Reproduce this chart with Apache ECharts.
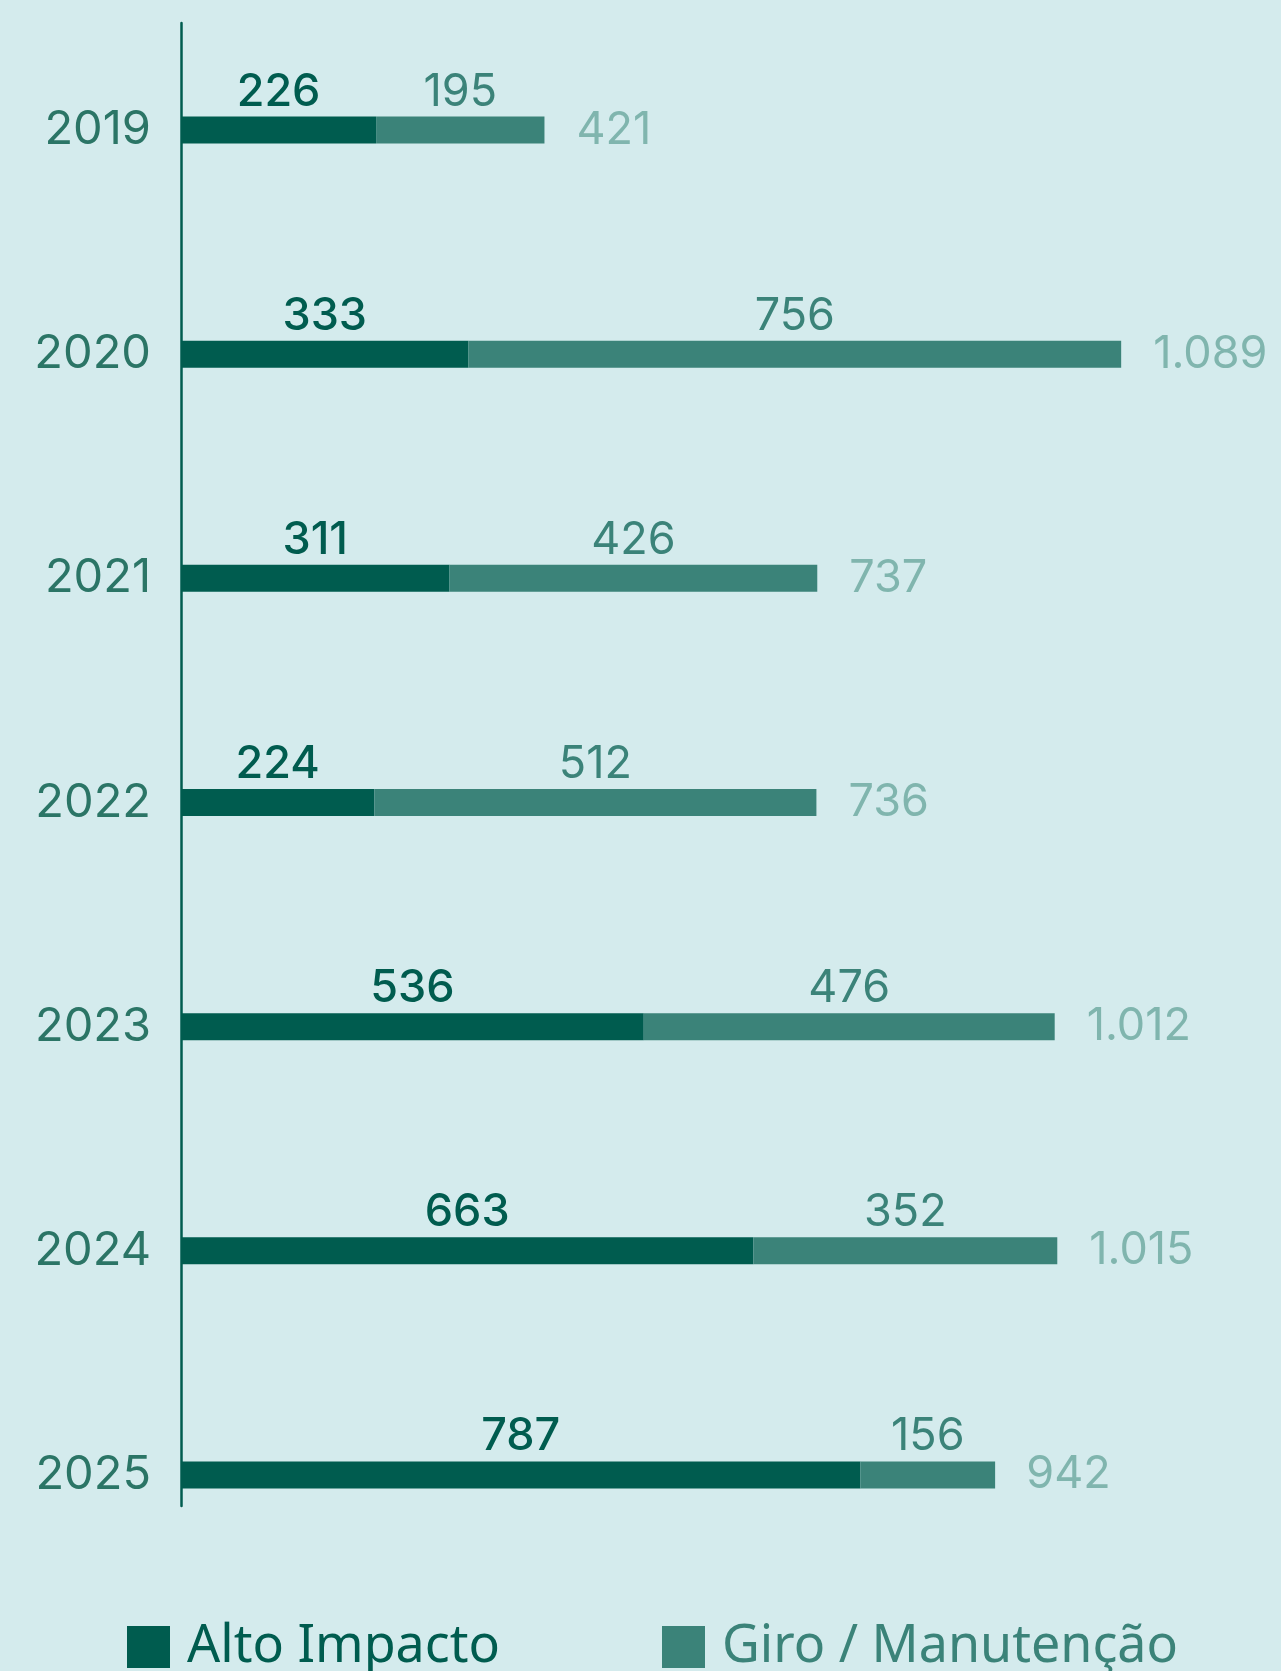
<!DOCTYPE html>
<html>
<head>
<meta charset="utf-8">
<script src="https://cdn.jsdelivr.net/npm/echarts@6/dist/echarts.min.js"></script>
<style>
html,body{margin:0;padding:0;background:#d4ebed;}
#c{width:1281px;height:1671px;}
</style>
</head>
<body>
<div id="c"></div>
<script>
const years = ['2019', '2020', '2021', '2022', '2023', '2024', '2025'];
const altoImpacto = [226, 333, 311, 224, 536, 663, 787];
const giroManutencao = [195, 756, 426, 512, 476, 352, 156];
const totals = [421, 1089, 737, 736, 1012, 1015, 942];

const DARK = '#005c4f';
const MID = '#3b8379';
const LIGHT = '#6aa89e';
const YEAR = '#2b7566';
const NUMFONT = 'Inter';

const chart = echarts.init(document.getElementById('c'), null, {renderer: 'canvas'});
chart.setOption({
  backgroundColor: '#d4ebed',
  animation: false,
  grid: [
    {left: 181, top: 18, height: 1569, width: 1036},
    {left: 181, top: 23, height: 1483, width: 100}
  ],
  xAxis: [
    {type: 'value', gridIndex: 0, min: 0, max: 1200, show: false},
    {type: 'value', gridIndex: 1, min: 0, max: 1, show: false}
  ],
  yAxis: [
    {
      type: 'category', gridIndex: 0, data: years, inverse: true,
      axisLine: {show: false}, axisTick: {show: false}, splitLine: {show: false},
      axisLabel: {fontFamily: NUMFONT, fontSize: 47, fontWeight: 400, color: YEAR, margin: 30,
        padding: [4, 0, 0, 0]}
    },
    {
      type: 'value', gridIndex: 1, min: 0, max: 1,
      axisLine: {show: true, onZero: false, lineStyle: {color: DARK, width: 2.5}},
      axisTick: {show: false}, axisLabel: {show: false}, splitLine: {show: false}
    }
  ],
  legend: [
    {
      data: [{name: 'Alto Impacto', textStyle: {color: DARK}}],
      left: 127, top: 1621, padding: 0, itemWidth: 43, itemHeight: 42, icon: 'rect',
      textStyle: {fontFamily: 'Noto Sans', fontSize: 52, padding: [0, 0, 0, 12]}
    },
    {
      data: [{name: 'Giro / Manutenção', textStyle: {color: MID}}],
      left: 662, top: 1621, padding: 0, itemWidth: 43, itemHeight: 42, icon: 'rect',
      textStyle: {fontFamily: 'Noto Sans', fontSize: 52, padding: [0, 0, 0, 12]}
    }
  ],
  series: [
    {
      name: 'Alto Impacto', type: 'bar', stack: 'total', barWidth: 27,
      xAxisIndex: 0, yAxisIndex: 0,
      itemStyle: {color: DARK},
      label: {show: true, position: 'top', distance: 2, color: DARK,
        fontFamily: NUMFONT, fontSize: 45, fontWeight: 500},
      data: altoImpacto
    },
    {
      name: 'Giro / Manutenção', type: 'bar', stack: 'total', barWidth: 27,
      xAxisIndex: 0, yAxisIndex: 0,
      itemStyle: {color: MID},
      label: {show: true, position: 'top', distance: 2, color: MID,
        fontFamily: NUMFONT, fontSize: 45, fontWeight: 400},
      data: giroManutencao
    },
    {
      name: 'Total', type: 'scatter', symbolSize: 0,
      xAxisIndex: 0, yAxisIndex: 0,
      label: {show: true, position: 'right', distance: 32, color: LIGHT,
        fontFamily: NUMFONT, fontSize: 45, fontWeight: 400,
        formatter: p => p.value[0].toLocaleString('pt-BR')},
      data: totals.map((t, i) => [t, years[i]])
    }
  ]
});
</script>
</body>
</html>
